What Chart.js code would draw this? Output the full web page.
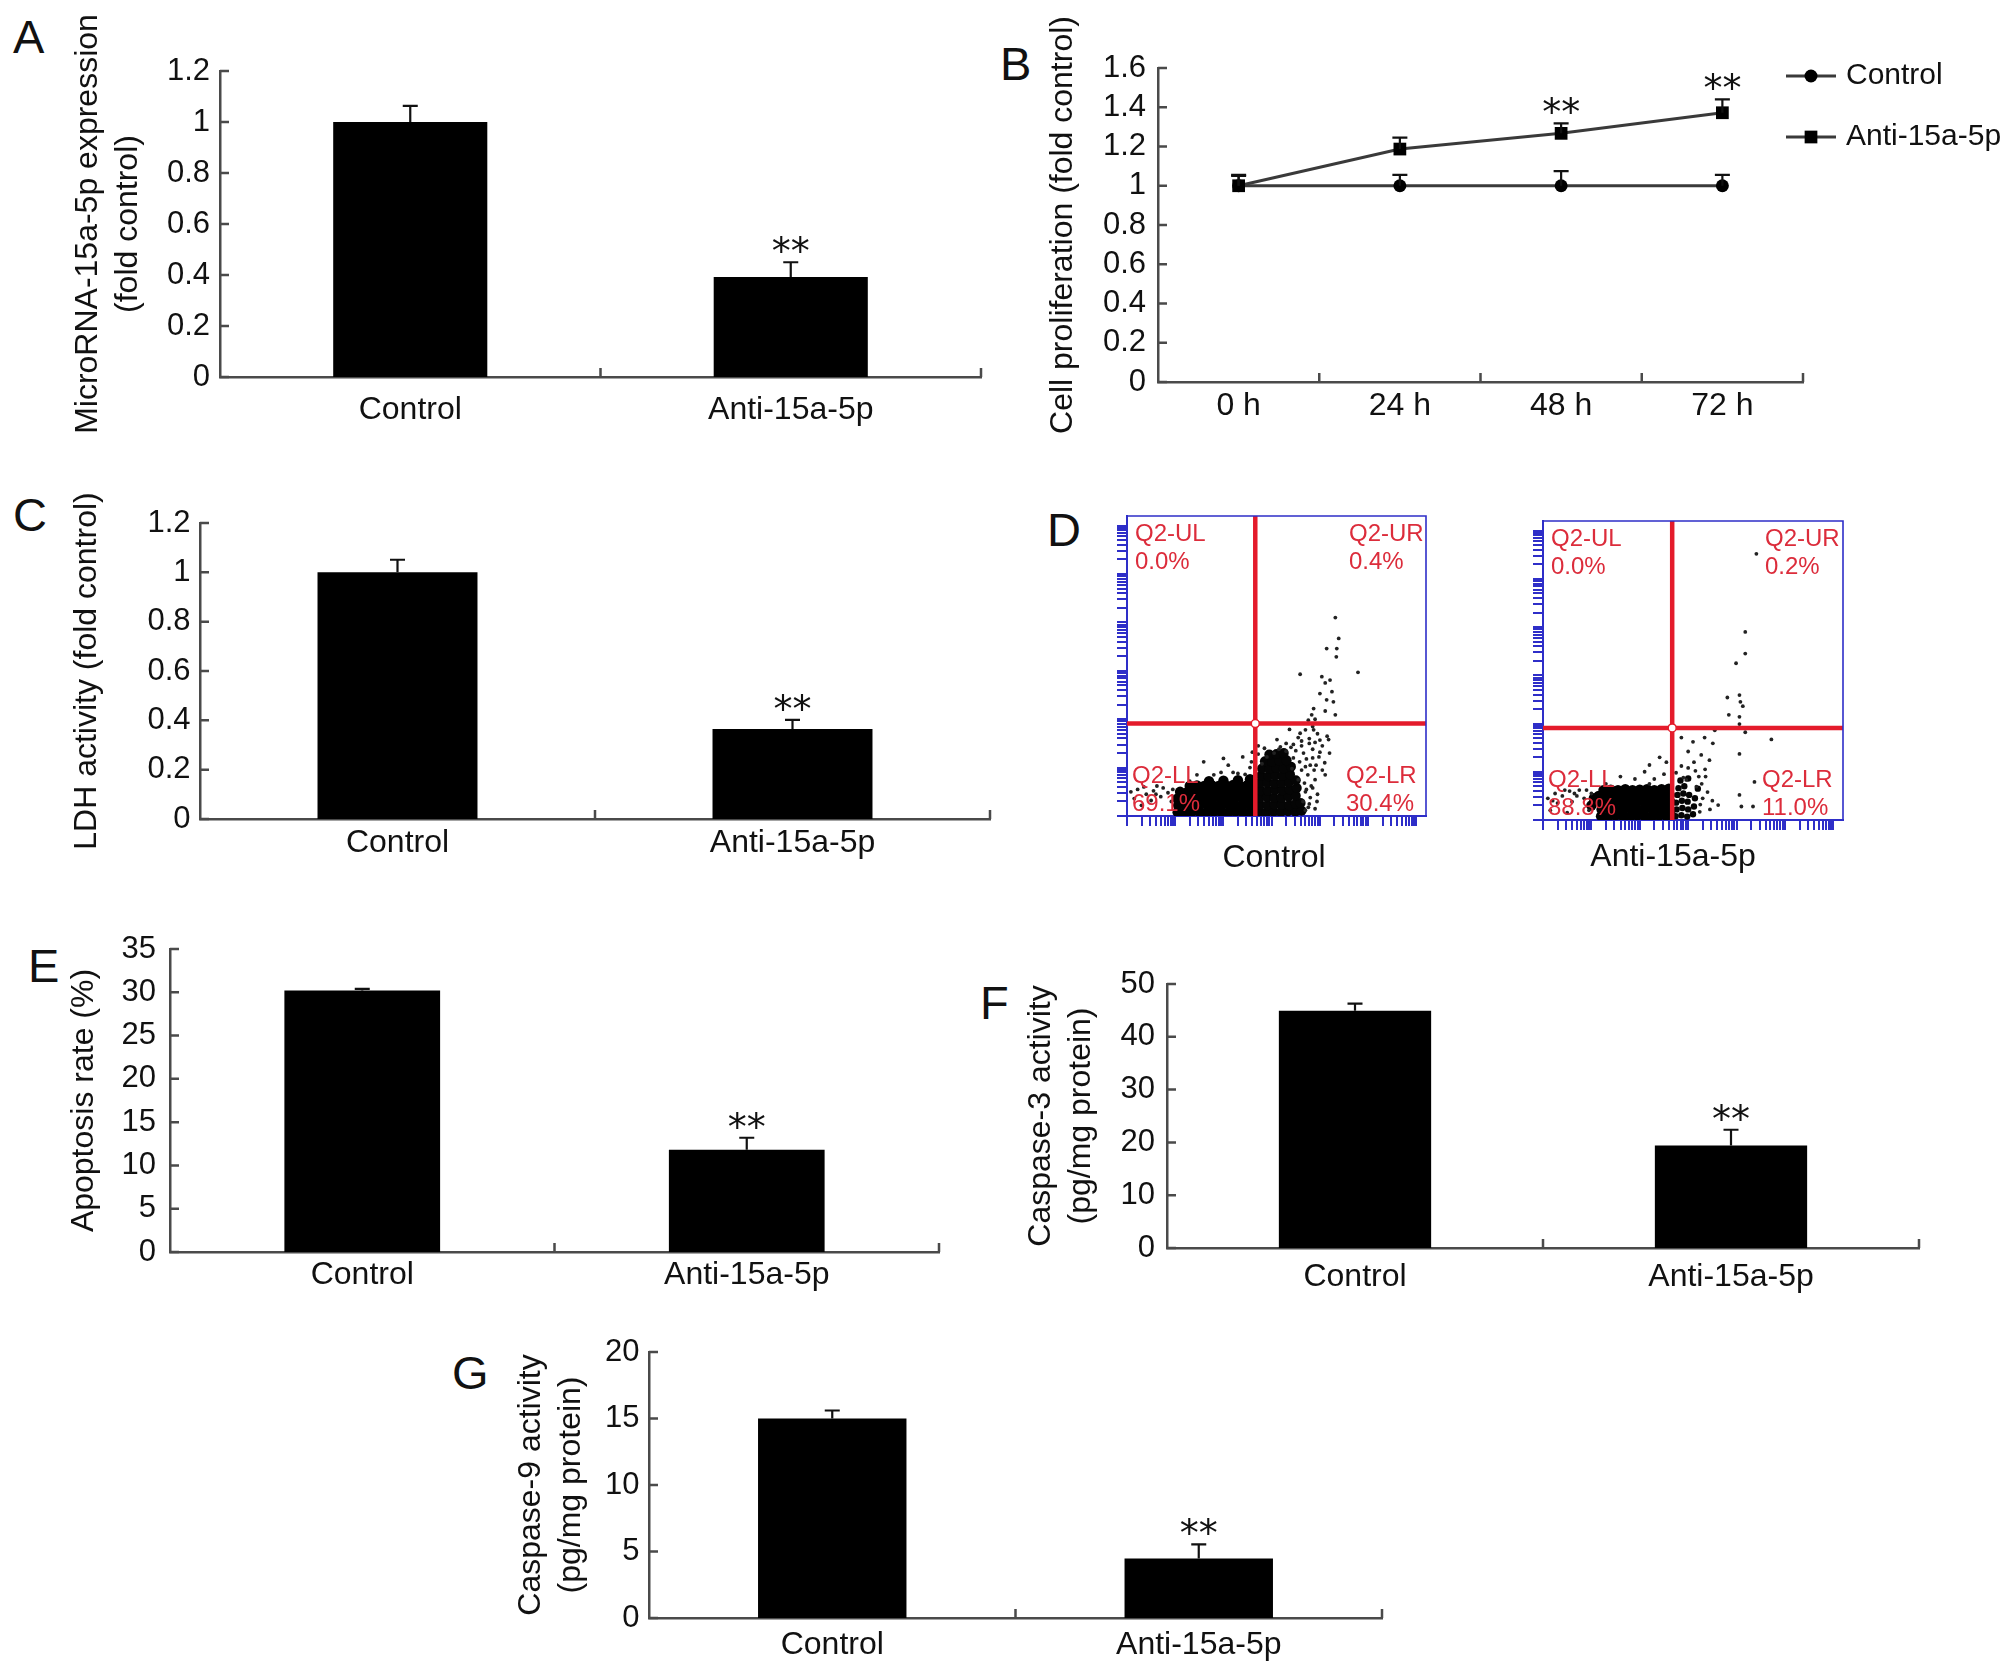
<!DOCTYPE html>
<html>
<head>
<meta charset="utf-8">
<title>Figure</title>
<script src="https://cdn.jsdelivr.net/npm/chart.js@4.4.1/dist/chart.umd.min.js"></script>
<style>
  html, body { margin:0; padding:0; background:#ffffff; }
  body { position:relative; width:2008px; height:1674px; overflow:hidden; }
  canvas { position:absolute; }
  .panel { position:absolute; font-family:'Liberation Sans', Arial, Helvetica, sans-serif; font-size:47px; line-height:47px; color:#111; }
</style>
</head>
<body>
<div class="panel" style="left:13px;top:13px">A</div>
<div class="panel" style="left:1000px;top:40px">B</div>
<div class="panel" style="left:13px;top:491px">C</div>
<div class="panel" style="left:1047px;top:506px">D</div>
<div class="panel" style="left:28px;top:942px">E</div>
<div class="panel" style="left:980px;top:979px">F</div>
<div class="panel" style="left:452px;top:1349px">G</div>

<canvas id="chartA"></canvas>
<canvas id="chartB"></canvas>
<canvas id="chartC"></canvas>
<canvas id="chartD1"></canvas>
<canvas id="chartD2"></canvas>
<canvas id="chartE"></canvas>
<canvas id="chartF"></canvas>
<canvas id="chartG"></canvas>

<script>
// ---------------- data ----------------
const barCategories = ['Control', 'Anti-15a-5p'];
const barSignificance = ['', '**'];

const mirnaValues = [1.0, 0.392];
const mirnaErrors = [0.063, 0.058];
const ldhValues = [1.0, 0.365];
const ldhErrors = [0.051, 0.037];
const apoptosisValues = [30.2, 11.8];
const apoptosisErrors = [0.2, 1.4];
const caspase3Values = [44.95, 19.4];
const caspase3Errors = [1.35, 3.0];
const caspase9Values = [15.0, 4.47];
const caspase9Errors = [0.6, 1.07];

const timeLabels = ['0 h', '24 h', '48 h', '72 h'];
const prolifControl = [1.0, 1.0, 1.0, 1.0];
const prolifControlErrors = [0.055, 0.055, 0.075, 0.055];
const prolifAnti = [1.0, 1.187, 1.267, 1.372];
const prolifAntiErrors = [0.05, 0.058, 0.051, 0.068];
const prolifSignificance = ['', '', '**', '**'];

const ticksFold = [0, 0.2, 0.4, 0.6, 0.8, 1, 1.2];
const ticksProlif = [0, 0.2, 0.4, 0.6, 0.8, 1, 1.2, 1.4, 1.6];
const ticksApoptosis = [0, 5, 10, 15, 20, 25, 30, 35];
const ticksCaspase3 = [0, 10, 20, 30, 40, 50];
const ticksCaspase9 = [0, 5, 10, 15, 20];

// flow cytometry (events in decades = log10 of fluorescence)
const flowDecades = [1, 10, 100, 1000, 10000, 100000, 1000000];
const flowMantissas = [1, 2, 3, 4, 5, 6, 7, 8, 9];
const flowMaxDecade = 6.2;
const quadrantNames = ['Q2-UL', 'Q2-UR', 'Q2-LL', 'Q2-LR'];
const controlPercents = ['0.0%', '0.4%', '69.1%', '30.4%'];
const antiPercents = ['0.0%', '0.2%', '88.8%', '11.0%'];
const controlGate = [2.66, 1.91];
const antiGate = [2.67, 1.91];

const controlBand = [
  [1.05,0.08],[1.2,0.07],[1.35,0.09],[1.5,0.08],[1.65,0.07],[1.8,0.09],[1.95,0.08],[2.1,0.07],[2.25,0.09],[2.4,0.08],[2.55,0.07],[2.64,0.1],
  [1.06,0.22],[1.21,0.23],[1.36,0.21],[1.51,0.22],[1.66,0.23],[1.81,0.21],[1.96,0.22],[2.11,0.23],[2.26,0.21],[2.41,0.22],[2.56,0.23],
  [1.04,0.36],[1.19,0.35],[1.34,0.37],[1.49,0.36],[1.64,0.35],[1.79,0.37],[1.94,0.36],[2.09,0.35],[2.24,0.37],[2.39,0.36],[2.54,0.35],[2.63,0.38],
  [1.1,0.5],[1.25,0.49],[1.4,0.51],[1.55,0.5],[1.7,0.49],[1.85,0.51],[2.0,0.5],[2.15,0.49],[2.3,0.51],[2.45,0.5],[2.6,0.52],
  [1.3,0.62],[1.45,0.63],[1.6,0.62],[1.75,0.64],[1.9,0.62],[2.05,0.63],[2.2,0.64],[2.35,0.62],[2.5,0.64],[2.62,0.66],
  [1.7,0.72],[2.0,0.73],[2.3,0.74],[2.55,0.76]];
const controlCloud = [
  [2.74,0.08],[2.89,0.07],[3.04,0.09],[3.19,0.08],[3.34,0.1],[3.49,0.09],[3.62,0.11],
  [2.76,0.23],[2.91,0.22],[3.06,0.24],[3.21,0.23],[3.36,0.22],[3.5,0.25],[3.6,0.27],
  [2.75,0.38],[2.9,0.39],[3.05,0.37],[3.2,0.38],[3.35,0.4],[3.5,0.42],
  [2.77,0.53],[2.92,0.52],[3.07,0.54],[3.22,0.53],[3.37,0.55],[3.52,0.58],
  [2.76,0.68],[2.91,0.69],[3.06,0.67],[3.21,0.68],[3.36,0.7],[3.5,0.74],
  [2.78,0.83],[2.93,0.82],[3.08,0.84],[3.23,0.83],[3.38,0.86],
  [2.8,0.98],[2.95,0.97],[3.1,0.99],[3.25,0.98],[3.4,1.02],
  [2.86,1.13],[3.01,1.12],[3.16,1.14],[3.31,1.15],
  [2.95,1.27],[3.1,1.28],[3.25,1.3]];
const controlSparse = [[4.32,4.10],[4.39,3.67],[4.14,3.46],[4.35,3.46],[4.34,3.29],[3.59,2.93],[4.79,2.97],[4.04,2.88],[4.11,2.75],[4.21,2.81],[4.0,2.53],[4.25,2.57],[4.14,2.40],[4.28,2.36],[3.87,2.22],[4.11,2.17],[4.32,2.09],[3.76,1.98],[3.83,2.09],[3.9,2.0],
  [3.37,1.79],[3.59,1.71],[3.87,1.78],[4.0,1.57],[4.18,1.58],[4.11,0.85],[3.94,0.30],[3.11,1.58],[3.18,1.43],[3.3,1.34],[2.9,1.22],[2.8,1.08],[3.72,0.55],[3.8,0.38],[3.9,0.75],[3.76,0.18],[3.7,1.02],[3.85,1.2],[3.92,1.05],[4.0,1.32],[3.78,1.5],[3.62,1.55],[3.45,1.48],[3.05,1.3],[2.72,1.28],[3.7,0.12],[3.85,0.58],[4.05,0.95],
  [3.55,0.75],[3.62,0.95],[3.58,1.12],[3.66,1.3],[3.7,0.5],[3.75,0.85],[3.8,1.05],[3.72,1.18],[3.85,1.38],[3.9,1.52],[3.5,1.35],[3.45,1.2],[3.62,1.45],[3.78,1.6],[3.95,1.7],[4.05,1.45],[3.98,1.22],[4.1,1.1],[3.88,0.95],[3.68,0.68],[3.82,0.62],[3.95,0.45],[3.4,1.42],[3.3,1.5],[3.55,1.62],[3.7,1.78],[3.85,1.85],[4.15,1.65],[4.2,1.3],[3.42,0.98],[3.65,0.3],[3.78,0.25],[3.9,0.15],[2.85,1.4],[3.15,1.38],[2.72,1.45],
  [1.59,1.12],[2.0,1.19],[2.4,1.22],[2.55,1.0],[2.2,0.9],[1.8,0.85],[2.45,0.86],[2.6,1.32],[1.3,0.72],[0.85,0.48],[0.7,0.4],[0.55,0.52],[0.4,0.45],[0.22,0.55],[0.15,0.36],[0.5,0.32],[0.92,0.3],[0.3,0.22],[0.62,0.62],[2.1,1.05],[2.58,1.12],[1.95,0.9],[1.45,0.85],[2.3,0.88],[0.08,0.5],[0.75,0.58],[0.95,0.55],[0.6,0.45],[0.35,0.6]];

const antiBand = [
  [1.2,0.08],[1.35,0.07],[1.5,0.09],[1.65,0.08],[1.8,0.07],[1.95,0.09],[2.1,0.08],[2.25,0.07],[2.4,0.09],[2.55,0.08],[2.64,0.1],
  [1.21,0.22],[1.36,0.23],[1.51,0.21],[1.66,0.22],[1.81,0.23],[1.96,0.21],[2.11,0.22],[2.26,0.23],[2.41,0.21],[2.56,0.22],
  [1.19,0.36],[1.34,0.35],[1.49,0.37],[1.64,0.36],[1.79,0.35],[1.94,0.37],[2.09,0.36],[2.24,0.35],[2.39,0.37],[2.54,0.36],[2.63,0.38],
  [1.15,0.5],[1.3,0.51],[1.45,0.49],[1.6,0.5],[1.75,0.51],[1.9,0.49],[2.05,0.5],[2.2,0.51],[2.35,0.49],[2.5,0.5],[2.62,0.52],
  [1.25,0.62],[1.4,0.63],[1.55,0.62],[1.7,0.64],[1.85,0.62],[2.0,0.63],[2.15,0.64],[2.3,0.62],[2.45,0.64],[2.6,0.65],
  [1.05,0.45],[1.0,0.3]];
const antiCloud = [[2.74,0.08],[2.86,0.1],[2.98,0.07],[3.1,0.12],[2.76,0.22],[2.88,0.25],[3.0,0.22],[3.12,0.28],[2.75,0.36],[2.87,0.4],[2.99,0.38],[2.78,0.52],[2.9,0.55],[3.02,0.52],[2.8,0.66],[2.92,0.7],[2.84,0.82],[3.0,0.86],[3.14,0.45],[3.2,0.65]];
const antiSparse = [[4.41,5.52],[4.18,3.90],[4.18,3.45],[3.99,3.25],[3.81,2.54],[4.06,2.59],[4.08,2.45],[4.13,2.36],[3.84,2.18],[4.06,2.14],[4.06,1.99],[4.18,1.82],[3.55,1.86],[3.34,1.71],[3.51,1.59],[2.86,1.71],[3.10,1.62],[4.72,1.67],[4.06,1.37],[3.27,1.35],[3.44,1.24],[3.0,1.42],[2.41,1.30],[2.2,1.14],[4.37,0.79],[4.06,0.52],[3.62,0.31],[4.1,0.28],[4.34,0.28],[3.24,0.17],[3.17,0.69],[2.96,0.83],[3.22,0.9],[3.3,0.45],[3.15,1.02],[3.0,1.08],[3.28,0.75],[3.36,0.9],[3.4,0.58],[3.45,0.22],[2.75,0.98],[2.86,1.12],[3.12,1.2],[3.35,1.05],[3.5,0.4],[3.25,0.32],[2.9,0.88],
  [0.1,0.45],[0.25,0.55],[0.4,0.5],[0.55,0.6],[0.7,0.5],[0.85,0.45],[1.0,0.55],[0.3,0.35],[0.6,0.38],[0.9,0.62],[1.6,0.9],[1.9,0.85],[2.1,1.0],[2.3,0.85],[2.5,0.95],[2.55,1.2],[2.2,0.75],[1.3,0.75],[0.15,0.2],[0.5,0.15],[0.95,0.2],[0.45,0.62],[0.75,0.62],[0.2,0.4],[0.65,0.55]];

// ---------------- styles ----------------
const FONT = "'Liberation Sans', Arial, Helvetica, sans-serif";
const STAR_FONT = "38px 'DejaVu Sans', sans-serif";
const AXIS_COLOR = '#4a4a4a';
const BLUE = '#2e2ec8';
const RED = '#e41b2b';
const RED_TEXT = '#dc2c3b';

// ---------------- plugins ----------------
const inwardTicks = {
  id: 'inwardTicks',
  afterDraw(chart) {
    const {ctx, chartArea: a} = chart;
    const x = chart.scales.x, y = chart.scales.y;
    ctx.save();
    ctx.strokeStyle = AXIS_COLOR; ctx.lineWidth = 2.5;
    ctx.beginPath();
    y.ticks.forEach(t => { const py = y.getPixelForValue(t.value); ctx.moveTo(a.left, py); ctx.lineTo(a.left + 9, py); });
    const n = x.getLabels().length;
    for (let i = 1; i <= n; i++) { const px = x.getPixelForValue(i - 0.5); ctx.moveTo(px, a.bottom); ctx.lineTo(px, a.bottom - 9); }
    ctx.stroke();
    ctx.restore();
  }
};

const errorBars = {
  id: 'errorBars',
  afterDatasetsDraw(chart) {
    const {ctx} = chart; const y = chart.scales.y;
    chart.data.datasets.forEach((ds, di) => {
      if (!ds.errors) return;
      const meta = chart.getDatasetMeta(di);
      meta.data.forEach((el, i) => {
        const v = ds.data[i], e = ds.errors[i];
        const top = y.getPixelForValue(v + e), base = y.getPixelForValue(v);
        ctx.save();
        ctx.strokeStyle = '#111'; ctx.lineWidth = 2.2;
        ctx.beginPath();
        ctx.moveTo(el.x, base); ctx.lineTo(el.x, top);
        ctx.moveTo(el.x - 7.5, top); ctx.lineTo(el.x + 7.5, top);
        ctx.stroke();
        if (ds.significance && ds.significance[i]) {
          ctx.fillStyle = '#111'; ctx.font = STAR_FONT;
          ctx.textAlign = 'center'; ctx.textBaseline = 'alphabetic';
          ctx.fillText(ds.significance[i], el.x, top + 2);
        }
        ctx.restore();
      });
    });
  }
};

const lineLegend = {
  id: 'lineLegend',
  afterDraw(chart, args, o) {
    if (!o || !o.rows) return;
    const ctx = chart.ctx;
    chart.data.datasets.forEach((ds, i) => {
      const yy = o.rows[i];
      ctx.save();
      ctx.strokeStyle = ds.borderColor; ctx.lineWidth = ds.borderWidth;
      ctx.beginPath(); ctx.moveTo(o.x0, yy); ctx.lineTo(o.x1, yy); ctx.stroke();
      ctx.fillStyle = '#000';
      Chart.helpers.drawPoint(ctx, {pointStyle: ds.pointStyle, radius: ds.pointRadius, borderWidth: 0, rotation: 0}, (o.x0 + o.x1) / 2, yy);
      ctx.fillStyle = '#111'; ctx.font = '30px ' + FONT;
      ctx.textAlign = 'left'; ctx.textBaseline = 'middle';
      ctx.fillText(ds.label, o.textX, yy);
      ctx.restore();
    });
  }
};

const flowDecor = {
  id: 'flowDecor',
  afterDraw(chart, args, o) {
    const {ctx, chartArea: a} = chart;
    ctx.save();
    ctx.strokeStyle = BLUE; ctx.lineWidth = 1.6;
    ctx.beginPath();
    ctx.moveTo(a.left, a.top); ctx.lineTo(a.right, a.top); ctx.lineTo(a.right, a.bottom);
    ctx.stroke();
    ctx.fillStyle = RED_TEXT; ctx.font = '24px ' + FONT;
    ctx.textAlign = 'left'; ctx.textBaseline = 'alphabetic';
    const pos = [[a.left + 8, a.top + 25], [a.left + 222, a.top + 25], [a.left + 5, a.bottom - 33], [a.left + 219, a.bottom - 33]];
    o.names.forEach((nm, i) => {
      ctx.fillText(nm, pos[i][0], pos[i][1]);
      ctx.fillText(o.percents[i], pos[i][0], pos[i][1] + 28);
    });
    ctx.fillStyle = '#111'; ctx.font = '32px ' + FONT; ctx.textAlign = 'center';
    ctx.fillText(o.label, a.left + o.labelDx, a.bottom + o.labelDy);
    ctx.restore();
  }
};

// ---------------- builders ----------------
function sizeCanvas(cv, left, top, w, h) {
  cv.width = w; cv.height = h;
  cv.style.left = left + 'px'; cv.style.top = top + 'px';
  cv.style.width = w + 'px'; cv.style.height = h + 'px';
}

function yScale(cfg, left) {
  return {
    type: 'linear', min: 0, max: cfg.max,
    grid: {display: false, drawTicks: false},
    border: {display: true, color: AXIS_COLOR, width: 2.5},
    ticks: {color: '#111', font: {family: FONT, size: 31}, padding: cfg.tickPad, callback: v => String(v), autoSkip: false},
    afterBuildTicks: s => { s.ticks = cfg.ticks.map(v => ({value: v})); },
    title: {display: true, text: cfg.title, color: '#111', font: {family: FONT, size: 32, lineHeight: 1.25}, padding: {top: 0, bottom: 0}},
    afterFit: s => { s.width = cfg.plot.l - left; }
  };
}

function xScale(cfg, bottom) {
  return {
    type: 'category', offset: true,
    grid: {display: false, drawTicks: false},
    border: {display: true, color: AXIS_COLOR, width: 2.5},
    ticks: {color: '#111', font: {family: FONT, size: 32}, padding: cfg.labelPad, maxRotation: 0, autoSkip: false},
    afterFit: s => { s.height = bottom - cfg.plot.b; }
  };
}

function makeBarChart(id, cfg) {
  const cv = document.getElementById(id);
  const left = Math.round(cfg.titleX - 20);
  const top = cfg.canvasTop, bottom = cfg.canvasBottom;
  const right = cfg.plot.r + 20;
  sizeCanvas(cv, left, top, right - left, bottom - top);
  return new Chart(cv, {
    type: 'bar',
    data: {labels: barCategories, datasets: [{
      data: cfg.values, errors: cfg.errors, significance: barSignificance,
      backgroundColor: '#000', borderWidth: 0, barPercentage: 0.405, categoryPercentage: 1
    }]},
    options: {
      responsive: false, animation: false, events: [],
      layout: {padding: {left: 0, top: cfg.plot.t - top, right: right - cfg.plot.r, bottom: 0}},
      plugins: {legend: {display: false}, tooltip: {enabled: false}},
      scales: {x: xScale(cfg, bottom), y: yScale(cfg, left)}
    },
    plugins: [inwardTicks, errorBars]
  });
}

function makeLineChart(id, cfg) {
  const cv = document.getElementById(id);
  const left = Math.round(cfg.titleX - 20);
  const top = cfg.canvasTop, bottom = cfg.canvasBottom;
  const right = 2008;
  sizeCanvas(cv, left, top, right - left, bottom - top);
  const common = {borderColor: '#3a3a3a', borderWidth: 3, pointBackgroundColor: '#000', pointBorderWidth: 0, fill: false, tension: 0};
  return new Chart(cv, {
    type: 'line',
    data: {labels: timeLabels, datasets: [
      Object.assign({label: 'Control', data: prolifControl, errors: prolifControlErrors, pointStyle: 'circle', pointRadius: 6.5, order: 2}, common),
      Object.assign({label: 'Anti-15a-5p', data: prolifAnti, errors: prolifAntiErrors, significance: prolifSignificance, pointStyle: 'rect', pointRadius: 9, order: 1}, common)
    ]},
    options: {
      responsive: false, animation: false, events: [],
      layout: {padding: {left: 0, top: cfg.plot.t - top, right: right - cfg.plot.r, bottom: 0}},
      plugins: {legend: {display: false}, tooltip: {enabled: false},
        lineLegend: {x0: 1786 - left, x1: 1836 - left, textX: 1846 - left, rows: [76 - top, 137 - top]}},
      scales: {x: xScale(cfg, bottom), y: yScale(cfg, left)}
    },
    plugins: [inwardTicks, errorBars, lineLegend]
  });
}

const flowTickValues = [];
flowDecades.forEach(d => flowMantissas.forEach(m => { if (Math.log10(d * m) <= flowMaxDecade + 1e-9) flowTickValues.push(d * m); }));
const FLOW_MAX = Math.pow(10, flowMaxDecade);
const toXY = p => ({x: Math.pow(10, p[0]), y: Math.pow(10, p[1])});

function flowAxis(isX, box, left, bottom) {
  return {
    type: 'logarithmic', min: 1, max: FLOW_MAX,
    grid: {display: true, drawOnChartArea: false, drawTicks: true, tickLength: 10, color: BLUE, lineWidth: 2},
    border: {display: true, color: BLUE, width: 2},
    ticks: {display: false, autoSkip: false},
    afterBuildTicks: s => { s.ticks = flowTickValues.map(v => ({value: v})); },
    afterFit: s => { if (isX) s.height = bottom - box.b; else s.width = box.l - left; }
  };
}

function makeFlowChart(id, cfg) {
  const cv = document.getElementById(id);
  const box = cfg.box;
  const left = box.l - 20, top = box.t - 10, right = box.r + 10, bottom = 885;
  sizeCanvas(cv, left, top, right - left, bottom - top);
  const gx = Math.pow(10, cfg.gate[0]), gy = Math.pow(10, cfg.gate[1]);
  return new Chart(cv, {
    type: 'scatter',
    data: {datasets: [
      {data: [{x: gx, y: gy}], pointRadius: 4, pointBackgroundColor: '#fff', pointBorderColor: RED, pointBorderWidth: 1.5, order: 0},
      {data: [{x: gx, y: 1}, {x: gx, y: FLOW_MAX}], showLine: true, borderColor: RED, borderWidth: 4.5, pointRadius: 0, order: 1},
      {data: [{x: 1, y: gy}, {x: FLOW_MAX, y: gy}], showLine: true, borderColor: RED, borderWidth: 4.5, pointRadius: 0, order: 1},
      {data: cfg.sparse.map(toXY), pointRadius: 1.9, pointBackgroundColor: '#222', pointBorderWidth: 0, order: 2},
      {data: cfg.cloud.map(toXY), pointRadius: cfg.cloudR, pointBackgroundColor: '#050505', pointBorderWidth: 0, order: 3},
      {data: cfg.band.map(toXY), pointRadius: 5.2, pointBackgroundColor: '#000', pointBorderWidth: 0, order: 3}
    ]},
    options: {
      responsive: false, animation: false, events: [],
      layout: {padding: {left: 0, top: box.t - top, right: right - box.r, bottom: 0}},
      plugins: {legend: {display: false}, tooltip: {enabled: false},
        flowDecor: {names: quadrantNames, percents: cfg.percents, label: cfg.label, labelDx: cfg.labelDx, labelDy: cfg.labelDy}},
      scales: {x: flowAxis(true, box, left, bottom), y: flowAxis(false, box, left, bottom)}
    },
    plugins: [flowDecor]
  });
}

// ---------------- charts ----------------
makeBarChart('chartA', {plot: {l: 220, t: 71, r: 981, b: 377}, max: 1.2, ticks: ticksFold, values: mirnaValues, errors: mirnaErrors,
  title: ['MicroRNA-15a-5p expression', '(fold control)'], titleX: 88, tickPad: 10, labelPad: 14, canvasTop: 0, canvasBottom: 462});
makeLineChart('chartB', {plot: {l: 1158, t: 68, r: 1803, b: 382}, max: 1.6, ticks: ticksProlif,
  title: 'Cell proliferation (fold control)', titleX: 1063, tickPad: 12, labelPad: 5, canvasTop: 0, canvasBottom: 462});
makeBarChart('chartC', {plot: {l: 200, t: 523, r: 990, b: 819}, max: 1.2, ticks: ticksFold, values: ldhValues, errors: ldhErrors,
  title: 'LDH activity (fold control)', titleX: 87, tickPad: 9.5, labelPad: 5, canvasTop: 470, canvasBottom: 885});
makeFlowChart('chartD1', {box: {l: 1127, t: 516, r: 1426, b: 816}, gate: controlGate, band: controlBand, cloud: controlCloud, cloudR: 5,
  sparse: controlSparse, percents: controlPercents, label: 'Control', labelDx: 147, labelDy: 51});
makeFlowChart('chartD2', {box: {l: 1543, t: 521, r: 1843, b: 820}, gate: antiGate, band: antiBand, cloud: antiCloud, cloudR: 3.2,
  sparse: antiSparse, percents: antiPercents, label: 'Anti-15a-5p', labelDx: 130, labelDy: 46});
makeBarChart('chartE', {plot: {l: 170, t: 949, r: 939, b: 1252}, max: 35, ticks: ticksApoptosis, values: apoptosisValues, errors: apoptosisErrors,
  title: 'Apoptosis rate (%)', titleX: 84, tickPad: 14, labelPad: 3.5, canvasTop: 900, canvasBottom: 1320});
makeBarChart('chartF', {plot: {l: 1167, t: 984, r: 1919, b: 1248}, max: 50, ticks: ticksCaspase3, values: caspase3Values, errors: caspase3Errors,
  title: ['Caspase-3 activity', '(pg/mg protein)'], titleX: 1041, tickPad: 12, labelPad: 10, canvasTop: 945, canvasBottom: 1320});
makeBarChart('chartG', {plot: {l: 649, t: 1352, r: 1382, b: 1618}, max: 20, ticks: ticksCaspase9, values: caspase9Values, errors: caspase9Errors,
  title: ['Caspase-9 activity', '(pg/mg protein)'], titleX: 531, tickPad: 9.5, labelPad: 7.5, canvasTop: 1322, canvasBottom: 1674});
</script>
</body>
</html>
